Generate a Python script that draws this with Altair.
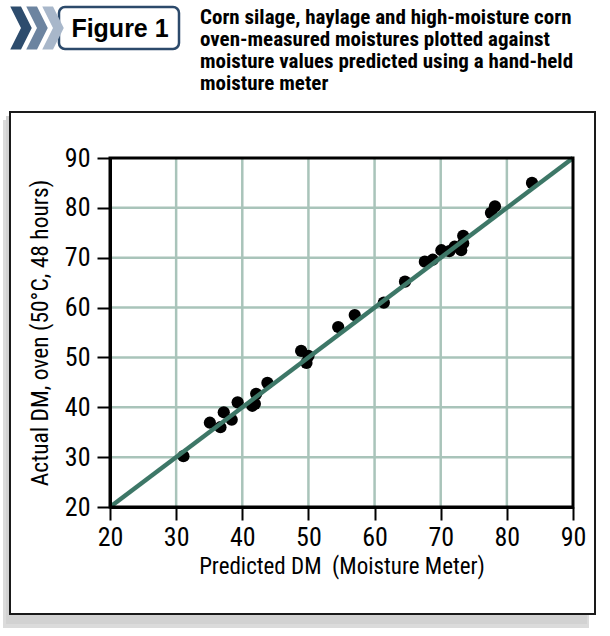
import altair as alt
import pandas as pd

# Oven-measured dry matter vs. moisture-meter prediction
predicted = [31.1, 35.1, 36.7, 37.2, 38.4, 39.3, 41.5, 41.9, 42.1, 43.8,
             48.9, 49.7, 50.0, 54.5, 57.0, 61.4, 64.6, 67.6, 68.8, 70.1,
             71.3, 72.1, 73.1, 73.4, 73.4, 77.6, 78.2, 83.8]
actual = [30.2, 36.9, 36.0, 39.0, 37.5, 41.0, 40.3, 40.7, 42.7, 44.9,
          51.3, 48.9, 50.3, 56.1, 58.5, 61.0, 65.2, 69.2, 69.6, 71.5,
          71.3, 72.2, 71.5, 72.9, 74.4, 79.0, 80.3, 85.0]

# 1:1 reference line
line_x = [20, 90]
line_y = [20, 90]

tick_values = [20, 30, 40, 50, 60, 70, 80, 90]
grid_values = [30, 40, 50, 60, 70, 80]

header_label = "Figure 1"
title_lines = [
    "Corn silage, haylage and high-moisture corn",
    "oven-measured moistures plotted against",
    "moisture values predicted using a hand-held",
    "moisture meter",
]
x_title = "Predicted DM\u00a0 (Moisture Meter)"
y_title = "Actual DM, oven (50°C, 48 hours)"

NARROW = "Liberation Sans Narrow, Roboto Condensed, DejaVu Sans Condensed, sans-serif"
GRID = "#a9c4ba"
LINE = "#3d7767"

W, H = 463, 349

points = pd.DataFrame({"predicted": predicted, "actual": actual})
ref = pd.DataFrame({"predicted": line_x, "actual": line_y})
grid = pd.DataFrame({"v": grid_values})
frame = pd.DataFrame({"x1": [tick_values[0]], "x2": [tick_values[-1]],
                      "y1": [tick_values[0]], "y2": [tick_values[-1]]})
one = pd.DataFrame({"k": [0]})

xs = alt.Scale(domain=[20, 90], nice=False, zero=False)
ys = alt.Scale(domain=[20, 90], nice=False, zero=False)

x_axis = alt.Axis(values=tick_values, grid=False, title=x_title,
                  labelFont=NARROW, labelFontSize=26, labelColor="black",
                  labelFlush=False, labelPadding=4, tickSize=13, tickWidth=2,
                  tickColor="black", domainColor="black", domainWidth=3,
                  titleFont=NARROW, titleFontSize=23, titleFontWeight="normal",
                  titleColor="black", titlePadding=5, zindex=1)
y_axis = alt.Axis(values=tick_values, grid=False, title=y_title,
                  labelFont=NARROW, labelFontSize=26, labelColor="black",
                  labelFlush=False, labelPadding=7, tickSize=13, tickWidth=2,
                  tickColor="black", domainColor="black", domainWidth=3,
                  titleFont=NARROW, titleFontSize=23.5, titleFontWeight="normal",
                  titleColor="black", titleX=-70, titleY=H / 2,
                  titleAngle=270, titleAlign="center", titleBaseline="middle",
                  zindex=1)

# Panel shadow and white panel
shadow = alt.Chart(one).mark_rect(color="#d2d2d2", opacity=0.8, clip=False).encode(
    x=alt.value(-107), x2=alt.value(479), y=alt.value(-38), y2=alt.value(470))
shadow2 = alt.Chart(one).mark_rect(color="#bdbdbd", opacity=0.7, clip=False).encode(
    x=alt.value(-104), x2=alt.value(477), y=alt.value(-42), y2=alt.value(466))
panel = alt.Chart(one).mark_rect(fill="white", stroke="#1a1a1a", strokeWidth=2,
                                 clip=False).encode(
    x=alt.value(-100), x2=alt.value(485), y=alt.value(-46), y2=alt.value(456))

# Header: chevrons, label box and caption
header_box = alt.Chart(one).mark_rect(fill="white", stroke="#2c4a6b", strokeWidth=2.5,
                                      cornerRadius=6, clip=False).encode(
    x=alt.value(-51), x2=alt.value(69), y=alt.value(-151), y2=alt.value(-109))
chevron_path = "M-0.5,-1 L0,-1 L0.5,0 L0,1 L-0.5,1 L0,0 Z"
chev_colors = ["#2d4c6d", "#6c84a0", "#a8b7ca"]
chev_x = [-89, -73, -57]
chevrons = [
    alt.Chart(one).mark_point(shape=chevron_path, filled=True, color=c, opacity=1,
                              size=1850, clip=False).encode(
        x=alt.value(cx), y=alt.value(-130))
    for c, cx in zip(chev_colors, chev_x)
]
header_text = alt.Chart(one).mark_text(text=header_label, font="Liberation Sans",
                                       fontWeight="bold", fontSize=25, color="black",
                                       align="center", baseline="middle",
                                       clip=False).encode(
    x=alt.value(10), y=alt.value(-129))
caption = alt.Chart(one).mark_text(text=title_lines, font=NARROW, fontWeight="bold",
                                   fontSize=21, lineHeight=22, color="black",
                                   align="left", baseline="top", clip=False).encode(
    x=alt.value(90), y=alt.value(-151))

grid_x = alt.Chart(grid).mark_rule(color=GRID, strokeWidth=2.5).encode(
    x=alt.X("v:Q", scale=xs, axis=x_axis))
grid_y = alt.Chart(grid).mark_rule(color=GRID, strokeWidth=2.5).encode(
    y=alt.Y("v:Q", scale=ys, axis=y_axis))

dots = alt.Chart(points).mark_circle(size=150, color="black", opacity=1).encode(
    x=alt.X("predicted:Q", scale=xs, axis=x_axis),
    y=alt.Y("actual:Q", scale=ys, axis=y_axis))

one_to_one = alt.Chart(ref).mark_line(color=LINE, strokeWidth=4.5).encode(
    x=alt.X("predicted:Q", scale=xs, axis=x_axis),
    y=alt.Y("actual:Q", scale=ys, axis=y_axis))

border = alt.Chart(frame).mark_rect(fill=None, stroke="black", strokeWidth=3).encode(
    x=alt.X("x1:Q", scale=xs, axis=x_axis), x2="x2:Q",
    y=alt.Y("y1:Q", scale=ys, axis=y_axis), y2="y2:Q")

chart = alt.layer(
    shadow2, shadow, panel, header_box, *chevrons, header_text, caption,
    grid_x, grid_y, dots, one_to_one, border,
).properties(
    width=W, height=H,
    autosize=alt.AutoSizeParams(type="none"),
    padding={"left": 110, "top": 158, "right": 37, "bottom": 129},
    background="white",
).configure_view(stroke=None)

chart.save("out.html", embed_options={"renderer": "svg", "actions": False})
